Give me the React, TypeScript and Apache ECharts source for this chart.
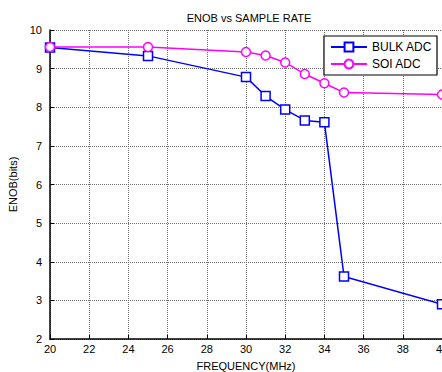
import React, { useEffect, useRef } from "react";
import * as echarts from "echarts";

const frequencies = [20, 25, 30, 31, 32, 33, 34, 35, 40];
const bulkAdc = [9.55, 9.33, 8.78, 8.29, 7.94, 7.66, 7.61, 3.62, 2.9];
const soiAdc = [9.56, 9.56, 9.43, 9.34, 9.16, 8.86, 8.62, 8.38, 8.33];

const FONT = "'Liberation Sans', Arial, sans-serif";

export default function App() {
  const ref = useRef<HTMLDivElement>(null);
  useEffect(() => {
    if (!ref.current) return;
    const chart = echarts.init(ref.current, undefined, { renderer: "svg" });
    const gridLine = { show: true, lineStyle: { color: "#707070", type: [1, 1], width: 1 } };
    chart.setOption({
      animation: false,
      backgroundColor: "#fff",
      textStyle: { fontFamily: FONT },
      title: {
        text: "ENOB vs SAMPLE RATE",
        left: 244,
        textAlign: "center",
        top: 7,
        textStyle: { fontFamily: FONT, fontSize: 11, fontWeight: "normal", color: "#000" },
      },
      legend: {
        orient: "vertical",
        right: 5,
        top: 36,
        backgroundColor: "#fff",
        borderColor: "#000",
        borderWidth: 1.2,
        borderRadius: 0,
        padding: [5, 5, 5, 6],
        itemGap: 5,
        itemWidth: 36,
        itemHeight: 11,
        textStyle: { fontFamily: FONT, fontSize: 12, color: "#000" },
        data: ["BULK ADC", "SOI ADC"],
      },
      grid: {
        left: 50,
        top: 30,
        right: 0,
        bottom: 33,
        outerBoundsMode: "none",
        containLabel: false,
        show: true,
        borderColor: "#808080",
        borderWidth: 0,
      },
      xAxis: {
        type: "value",
        min: 20,
        max: 40,
        interval: 2,
        name: "FREQUENCY(MHz)",
        nameLocation: "middle",
        nameGap: 21,
        nameTextStyle: { fontFamily: FONT, fontSize: 11, color: "#000" },
        axisLine: { show: true, lineStyle: { color: "#000", width: 1.5 } },
        axisTick: { show: true, inside: true, length: 4, lineStyle: { color: "#000" } },
        axisLabel: { color: "#000", fontSize: 11, fontFamily: FONT, margin: 4 },
        splitLine: gridLine,
      },
      yAxis: {
        type: "value",
        min: 2,
        max: 10,
        interval: 1,
        name: "ENOB(bits)",
        nameLocation: "middle",
        nameGap: 25,
        nameTextStyle: { fontFamily: FONT, fontSize: 11, color: "#000" },
        axisLine: { show: true, lineStyle: { color: "#000", width: 1.5 } },
        axisTick: { show: true, inside: true, length: 4, lineStyle: { color: "#000" } },
        axisLabel: { color: "#000", fontSize: 11, fontFamily: FONT, margin: 8 },
        splitLine: gridLine,
      },
      series: [
        {
          name: "BULK ADC",
          type: "line",
          data: frequencies.map((f, i) => [f, bulkAdc[i]]),
          symbol: "rect",
          symbolSize: 9,
          showAllSymbol: true,
          clip: false,
          lineStyle: { color: "#0000ff", width: 1.5 },
          itemStyle: { color: "#fff", borderColor: "#0000ff", borderWidth: 1.5 },
          color: "#0000ff",
          z: 3,
        },
        {
          name: "SOI ADC",
          type: "line",
          data: frequencies.map((f, i) => [f, soiAdc[i]]),
          symbol: "circle",
          symbolSize: 9,
          showAllSymbol: true,
          clip: false,
          lineStyle: { color: "#ff00ff", width: 1.5 },
          itemStyle: { color: "#fff", borderColor: "#ff00ff", borderWidth: 1.5 },
          color: "#ff00ff",
          z: 4,
        },
      ],
    });
    return () => chart.dispose();
  }, []);
  return (
    <div
      ref={ref}
      style={{ position: "fixed", left: 0, top: 0, width: 442, height: 372 }}
    />
  );
}
